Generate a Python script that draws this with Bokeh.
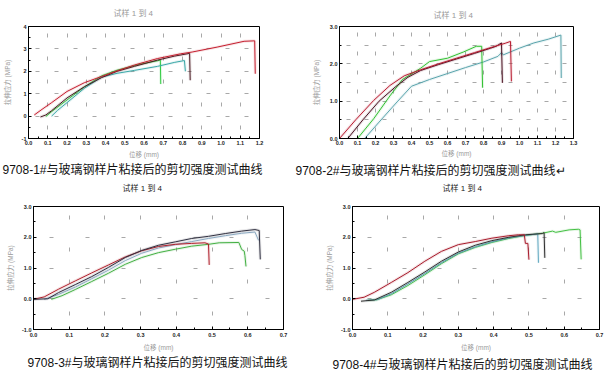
from bokeh.plotting import figure
from bokeh.models import FixedTicker, PrintfTickFormatter, Range1d, Title
from bokeh.layouts import column, row
from bokeh.embed import file_html
from bokeh.resources import INLINE

# ---------------- data ----------------
TITLE = "试样 1 到 4"
Y_LABEL = "拉伸应力 (MPa)"
X_LABEL = "位移 (mm)"
CAPTIONS = [
    "9708-1#与玻璃钢样片粘接后的剪切强度测试曲线",
    "9708-2#与玻璃钢样片粘接后的剪切强度测试曲线↵",
    "9708-3#与玻璃钢样片粘接后的剪切强度测试曲线",
    "9708-4#与玻璃钢样片粘接后的剪切强度测试曲线",
]

p1_xticks = [0.0, 0.1, 0.2, 0.3, 0.4, 0.5, 0.6, 0.7, 0.8, 0.9, 1.0, 1.1, 1.2]
p1_yticks = [-1, 0, 1, 2, 3, 4]
p2_xticks = [0.0, 0.1, 0.2, 0.3, 0.4, 0.5, 0.6, 0.7, 0.8, 0.9, 1.0, 1.1, 1.2, 1.3]
p2_yticks = [0.0, 1.0, 2.0, 3.0]
p34_xticks = [0.0, 0.1, 0.2, 0.3, 0.4, 0.5, 0.6, 0.7]
p34_yticks = [-1.0, 0.0, 1.0, 2.0, 3.0]

# panel 1
p1_red_x = [0.03, 0.07, 0.12, 0.2, 0.29, 0.38, 0.46, 0.55, 0.67, 0.79, 0.85, 0.98, 1.12, 1.175, 1.178]
p1_red_y = [0.05, 0.3, 0.6, 1.1, 1.49, 1.77, 2.02, 2.28, 2.57, 2.78, 2.86, 3.08, 3.34, 3.36, 1.89]
p1_dark_x = [0.062, 0.09, 0.12, 0.2, 0.29, 0.38, 0.46, 0.55, 0.67, 0.76, 0.837, 0.84]
p1_dark_y = [-0.04, 0.05, 0.24, 0.81, 1.31, 1.72, 2.0, 2.22, 2.5, 2.68, 2.8, 1.6]
p1_teal_x = [0.12, 0.15, 0.2, 0.29, 0.38, 0.46, 0.55, 0.67, 0.76, 0.81, 0.815]
p1_teal_y = [0.0, 0.25, 0.6, 1.24, 1.74, 1.91, 2.04, 2.22, 2.4, 2.48, 2.0]
p1_green_x = [0.09, 0.12, 0.2, 0.29, 0.38, 0.46, 0.58, 0.67, 0.685, 0.687]
p1_green_y = [-0.02, 0.2, 0.72, 1.3, 1.8, 2.05, 2.32, 2.47, 2.5, 1.43]

# panel 2
p2_red_x = [0.0, 0.09, 0.19, 0.28, 0.36, 0.45, 0.55, 0.65, 0.75, 0.85, 0.92, 0.95, 0.955]
p2_red_y = [0.0, 0.5, 1.02, 1.42, 1.68, 1.84, 2.0, 2.15, 2.3, 2.45, 2.55, 2.6, 1.53]
p2_dark_x = [0.046, 0.13, 0.22, 0.31, 0.38, 0.45, 0.55, 0.65, 0.75, 0.84, 0.87, 0.9, 0.905]
p2_dark_y = [0.0, 0.5, 1.0, 1.38, 1.64, 1.82, 1.98, 2.13, 2.28, 2.42, 2.47, 2.56, 1.49]
p2_green_x = [0.1, 0.19, 0.28, 0.35, 0.45, 0.5, 0.6, 0.69, 0.76, 0.79, 0.795]
p2_green_y = [0.0, 0.53, 1.14, 1.58, 1.88, 2.06, 2.15, 2.32, 2.47, 2.47, 1.36]
p2_teal_x = [0.14, 0.22, 0.32, 0.4, 0.5, 0.6, 0.7, 0.8, 0.88, 0.9, 0.91, 1.0, 1.08, 1.16, 1.23, 1.232]
p2_teal_y = [0.0, 0.44, 0.98, 1.4, 1.58, 1.74, 1.9, 2.05, 2.2, 2.3, 2.24, 2.42, 2.56, 2.66, 2.77, 1.62]

# panel 3
p3_red_x = [0.0, 0.03, 0.07, 0.117, 0.163, 0.21, 0.257, 0.303, 0.35, 0.397, 0.443, 0.48, 0.49, 0.492]
p3_red_y = [-0.02, 0.06, 0.31, 0.58, 0.84, 1.1, 1.36, 1.56, 1.7, 1.77, 1.8, 1.82, 1.78, 1.1]
p3_dark_x = [0.0, 0.04, 0.07, 0.117, 0.163, 0.21, 0.257, 0.303, 0.35, 0.397, 0.443, 0.49, 0.537, 0.583, 0.62, 0.632, 0.635]
p3_dark_y = [-0.02, 0.0, 0.2, 0.46, 0.72, 1.02, 1.34, 1.57, 1.74, 1.85, 1.96, 2.03, 2.12, 2.2, 2.25, 2.22, 1.28]
p3_teal_x = [0.03, 0.07, 0.117, 0.163, 0.21, 0.257, 0.303, 0.35, 0.397, 0.443, 0.49, 0.537, 0.583, 0.62, 0.63]
p3_teal_y = [-0.02, 0.14, 0.38, 0.65, 0.93, 1.24, 1.48, 1.65, 1.76, 1.86, 1.96, 2.05, 2.13, 2.17, 1.9]
p3_green_x = [0.05, 0.08, 0.117, 0.163, 0.21, 0.257, 0.303, 0.35, 0.397, 0.443, 0.49, 0.52, 0.575, 0.583, 0.59, 0.592, 0.595]
p3_green_y = [-0.02, 0.1, 0.3, 0.56, 0.83, 1.12, 1.34, 1.5, 1.61, 1.71, 1.77, 1.82, 1.83, 1.6, 1.55, 1.4, 1.05]

# panel 4
p4_red_x = [0.0, 0.033, 0.062, 0.11, 0.157, 0.205, 0.252, 0.3, 0.348, 0.395, 0.443, 0.47, 0.487, 0.49, 0.497, 0.5]
p4_red_y = [-0.02, 0.05, 0.21, 0.53, 0.85, 1.22, 1.54, 1.76, 1.86, 1.97, 2.05, 2.08, 2.08, 1.8, 1.8, 1.27]
p4_dark_x = [0.024, 0.062, 0.11, 0.157, 0.205, 0.252, 0.3, 0.348, 0.395, 0.443, 0.49, 0.538, 0.543, 0.545]
p4_dark_y = [-0.08, -0.04, 0.21, 0.53, 0.87, 1.22, 1.52, 1.74, 1.89, 2.0, 2.08, 2.12, 2.15, 1.33]
p4_teal_x = [0.038, 0.07, 0.11, 0.157, 0.205, 0.252, 0.3, 0.348, 0.395, 0.443, 0.49, 0.52, 0.525, 0.527]
p4_teal_y = [-0.05, -0.03, 0.16, 0.48, 0.82, 1.17, 1.48, 1.69, 1.85, 1.98, 2.06, 2.1, 2.12, 1.17]
p4_green_x = [0.043, 0.07, 0.11, 0.157, 0.205, 0.252, 0.3, 0.348, 0.395, 0.443, 0.49, 0.538, 0.567, 0.576, 0.614, 0.64, 0.645, 0.648]
p4_green_y = [-0.05, -0.03, 0.13, 0.43, 0.78, 1.14, 1.46, 1.67, 1.83, 1.96, 2.06, 2.13, 2.2, 2.16, 2.24, 2.26, 2.24, 1.28]

# Latin metrics for layout; CJK glyphs come from the fallback font
TXT = "Liberation Sans, Noto Sans CJK SC"


def make_panel(w, h, borders, xr, yr, xticks, yticks, yfmt, ygrid_step, curves,
               title_off, title_spacer, title_standoff, title_color, caption, cap_off, cap_standoff,
               tick_standoff, xlab_standoff, ylab_standoff):
    L, R, T, B = borders
    p = figure(width=w, height=h, x_range=Range1d(*xr), y_range=Range1d(*yr),
               output_backend="svg", toolbar_location=None,
               min_border_left=L, min_border_right=R, min_border_top=T, min_border_bottom=B,
               background_fill_color="white", border_fill_color="white")
    p.outline_line_color = "black"
    p.outline_line_width = 1
    p.outline_line_alpha = 1

    fw = w - L - R
    fh = h - T - B
    px_x = fw / (xr[1] - xr[0]) * 0.1
    px_y = fh / (yr[1] - yr[0]) * ygrid_step
    d = 4

    xminor = [round(v + 0.05, 3) for v in xticks[:-1]]
    yminor = [(a + b) / 2 for a, b in zip(yticks[:-1], yticks[1:])]
    p.xaxis.ticker = FixedTicker(ticks=xticks, minor_ticks=xminor)
    p.yaxis.ticker = FixedTicker(ticks=yticks, minor_ticks=yminor)
    p.xaxis.formatter = PrintfTickFormatter(format="%.1f")
    p.yaxis.formatter = PrintfTickFormatter(format=yfmt)

    gy = []
    v = yr[0]
    while v <= yr[1] + 1e-9:
        gy.append(round(v, 3))
        v += ygrid_step
    p.xgrid.ticker = FixedTicker(ticks=xticks)
    p.ygrid.ticker = FixedTicker(ticks=gy)
    for g in (p.xgrid[0], p.ygrid[0]):
        g.grid_line_color = "#a8a8a8"
        g.grid_line_width = 1
    p.xgrid.grid_line_dash = "%d %d" % (d, max(1, round(px_y - d)))
    p.xgrid.grid_line_dash_offset = round(px_y / 2 + d / 2)
    p.ygrid.grid_line_dash = "%d %d" % (d, max(1, round(px_x - d)))
    p.ygrid.grid_line_dash_offset = round(px_x / 2 + d / 2)

    for ax in (p.xaxis[0], p.yaxis[0]):
        ax.axis_line_color = "black"
        ax.major_tick_in = 3
        ax.major_tick_out = 0
        ax.minor_tick_in = 2
        ax.minor_tick_out = 0
        ax.major_tick_line_color = "black"
        ax.minor_tick_line_color = "black"
        ax.major_label_text_font = "Liberation Sans"
        ax.major_label_text_font_size = "5.5px"
        ax.major_label_text_font_style = "bold"
        ax.major_label_text_color = "#222222"
        ax.axis_label_text_font = TXT
        ax.axis_label_text_font_size = "6.5px"
        ax.axis_label_text_font_style = "normal"
        ax.axis_label_text_color = "#9a9a9a"
    p.xaxis.major_label_standoff = tick_standoff
    p.yaxis.major_label_standoff = 2
    p.xaxis.axis_label = X_LABEL
    p.yaxis.axis_label = Y_LABEL
    p.xaxis.axis_label_standoff = xlab_standoff
    p.yaxis.axis_label_standoff = ylab_standoff

    for xs, ys_, col in curves:
        p.line(xs, ys_, line_color=col, line_width=3.0, line_alpha=0.12)
        p.line(xs, ys_, line_color=col, line_width=1.0)

    # chart title (outermost above panel) and a thin spacer between it and the frame
    p.title.text = TITLE
    p.title.align = "left"
    p.title.offset = title_off
    p.title.standoff = title_standoff
    p.title.text_font = TXT
    p.title.text_font_size = "8px"
    p.title.text_font_style = "normal"
    p.title.text_color = title_color
    p.add_layout(Title(text=" ", text_font_size="1px", standoff=title_spacer), "above")

    cap = Title(text=caption, align="left", offset=cap_off, standoff=cap_standoff,
                text_font=TXT, text_font_size="12px", text_font_style="normal",
                text_color="#111111")
    p.add_layout(cap, "below")
    return p


p1 = make_panel(285, 180, (28, 26, 26, 39), (0, 1.2), (-1, 4), p1_xticks, p1_yticks, "%d", 1.0,
                [(p1_green_x, p1_green_y, "#33cc44"), (p1_teal_x, p1_teal_y, "#3aa8a8"),
                 (p1_dark_x, p1_dark_y, "#4a1a22"), (p1_red_x, p1_red_y, "#c41e2e")],
                85, 1, 10, "#9a9a9a", CAPTIONS[0], -26, 0, 2, 3, 8)
p2 = make_panel(331, 180, (54, 43, 26, 39), (0, 1.3), (0, 3), p2_xticks, p2_yticks, "%.1f", 0.5,
                [(p2_teal_x, p2_teal_y, "#5aa4ac"), (p2_green_x, p2_green_y, "#33c033"),
                 (p2_dark_x, p2_dark_y, "#4a1020"), (p2_red_x, p2_red_y, "#b81c30")],
                94, 1, 6, "#9a9a9a", CAPTIONS[1], -44, 5, 2, 2, 7)
p3 = make_panel(300, 194, (33, 17, 26, 42), (0, 0.7), (-1, 3), p34_xticks, p34_yticks, "%.1f", 1.0,
                [(p3_green_x, p3_green_y, "#44b044"), (p3_teal_x, p3_teal_y, "#8aa8c0"),
                 (p3_red_x, p3_red_y, "#b0202c"), (p3_dark_x, p3_dark_y, "#303040")],
                89, 11, 0, "#222222", CAPTIONS[2], -6, 1, 3, 4, 5)
p4 = make_panel(316, 194, (52, 17, 26, 42), (0, 0.7), (-1, 3), p34_xticks, p34_yticks, "%.1f", 1.0,
                [(p4_green_x, p4_green_y, "#44c044"), (p4_teal_x, p4_teal_y, "#60a8c0"),
                 (p4_dark_x, p4_dark_y, "#303030"), (p4_red_x, p4_red_y, "#a81c2c")],
                90, 11, 0, "#222222", CAPTIONS[3], -20, 5, 3, 4, 5)

layout = column(row(p1, p2), row(p3, p4))
open("out.html", "w").write(file_html(layout, INLINE))
